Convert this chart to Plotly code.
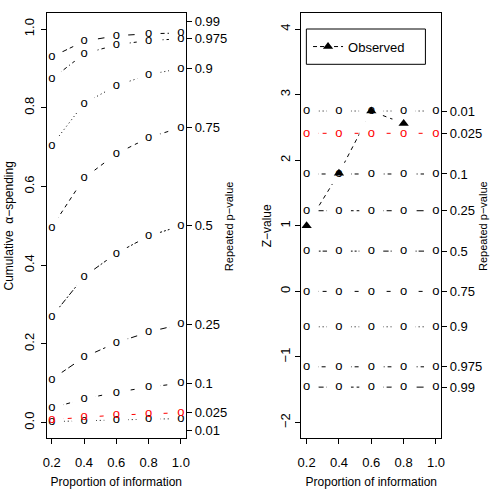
import plotly.graph_objects as go

# ---------------- data ----------------
info = [0.2, 0.4, 0.6, 0.8, 1.0]
pvals = ["0.01", "0.025", "0.1", "0.25", "0.5", "0.75", "0.9", "0.975", "0.99"]

spend_001 = [0.0025, 0.005, 0.007, 0.0085, 0.01]
spend_0025 = [0.0075, 0.014, 0.019, 0.022, 0.025]
spend_01 = [0.037, 0.060, 0.077, 0.090, 0.100]
spend_025 = [0.110, 0.166, 0.203, 0.230, 0.250]
spend_05 = [0.269, 0.371, 0.430, 0.474, 0.500]
spend_075 = [0.496, 0.621, 0.683, 0.724, 0.750]
spend_09 = [0.704, 0.811, 0.856, 0.884, 0.900]
spend_0975 = [0.873, 0.937, 0.960, 0.971, 0.975]
spend_099 = [0.929, 0.969, 0.983, 0.988, 0.990]
spending = [spend_001, spend_0025, spend_01, spend_025, spend_05,
            spend_075, spend_09, spend_0975, spend_099]

# label positions of the repeated p-value axis on the left panel
left_label_pos = [-0.021, 0.025, 0.1, 0.25, 0.5, 0.75, 0.9, 0.975, 1.019]

# Z-value boundaries (constant over information) for each p-value
z_bounds = [2.75, 2.41, 1.79, 1.23, 0.614, 0.0, -0.54, -1.15, -1.46]

obs_info = [0.2, 0.4, 0.6, 0.8]
obs_z = [1.0, 1.80, 2.75, 2.56]

left_yticks = [0.0, 0.2, 0.4, 0.6, 0.8, 1.0]
right_yticks = [-2, -1, 0, 1, 2, 3, 4]

# ---------------- styles ----------------
FONT = "Liberation Sans, Arial, sans-serif"
DOTTED = "1px,3px"
DASHED = "4px,4px"
DOTDASH = "1px,3px,4px,3px"
LONGDASH = "7px,3px"
TWODASH = "2px,2px,6px,2px"
dashes = [DOTTED, DASHED, DOTDASH, LONGDASH, TWODASH, DASHED, DOTTED, DOTDASH, LONGDASH]
colors = ["black", "#FF0000"] + ["black"] * 7
GAP = 24  # white cover emulating R's type="b" gaps

fig = go.Figure()

# ---- left panel ----
for vals, d, c in zip(spending, dashes, colors):
    fig.add_trace(go.Scatter(x=info, y=vals, mode="lines", xaxis="x", yaxis="y",
                             line=dict(color=c, width=1, dash=d), showlegend=False,
                             hoverinfo="skip"))
for vals in spending:
    fig.add_trace(go.Scatter(x=info, y=vals, mode="markers", xaxis="x", yaxis="y",
                             marker=dict(color="white", size=GAP), showlegend=False,
                             hoverinfo="skip"))
for vals, c in zip(spending, colors):
    fig.add_trace(go.Scatter(x=info, y=vals, mode="text", xaxis="x", yaxis="y",
                             text=["o"] * len(info), textposition="middle center",
                             textfont=dict(family=FONT, size=13, color=c),
                             showlegend=False, hoverinfo="skip"))
# anchor trace for the right-hand p-value axis
fig.add_trace(go.Scatter(x=[None], y=[None], xaxis="x", yaxis="y3", showlegend=False,
                         hoverinfo="skip"))

# ---- right panel ----
for z, d, c in zip(z_bounds, dashes, colors):
    fig.add_trace(go.Scatter(x=info, y=[z] * len(info), mode="lines", xaxis="x2", yaxis="y2",
                             line=dict(color=c, width=1, dash=d), showlegend=False,
                             hoverinfo="skip"))
fig.add_trace(go.Scatter(x=obs_info, y=obs_z, mode="lines", xaxis="x2", yaxis="y2",
                         line=dict(color="black", width=1, dash=DASHED), showlegend=False,
                         hoverinfo="skip"))
for z in z_bounds:
    fig.add_trace(go.Scatter(x=info, y=[z] * len(info), mode="markers", xaxis="x2", yaxis="y2",
                             marker=dict(color="white", size=GAP), showlegend=False,
                             hoverinfo="skip"))
fig.add_trace(go.Scatter(x=obs_info, y=obs_z, mode="markers", xaxis="x2", yaxis="y2",
                         marker=dict(color="white", size=GAP), showlegend=False,
                         hoverinfo="skip"))
for z, c in zip(z_bounds, colors):
    fig.add_trace(go.Scatter(x=info, y=[z] * len(info), mode="text", xaxis="x2", yaxis="y2",
                             text=["o"] * len(info), textposition="middle center",
                             textfont=dict(family=FONT, size=13, color=c),
                             showlegend=False, hoverinfo="skip"))
fig.add_trace(go.Scatter(x=obs_info, y=obs_z, mode="markers", xaxis="x2", yaxis="y2",
                         marker=dict(color="black", size=9, symbol="triangle-up"),
                         showlegend=False, hoverinfo="skip"))
fig.add_trace(go.Scatter(x=[None], y=[None], xaxis="x2", yaxis="y4", showlegend=False,
                         hoverinfo="skip"))
# legend entry
fig.add_trace(go.Scatter(x=[None], y=[None], mode="lines+markers", xaxis="x2", yaxis="y2",
                         name="Observed",
                         line=dict(color="black", width=1, dash="4px,3px"),
                         marker=dict(color="black", size=9, symbol="triangle-up")))

W, H = 498, 492
xdom1 = [43.3 / W, 185 / W]
xdom2 = [302.3 / W, 444.3 / W]
ydom = [1 - 438.3 / H, 1 - 13.3 / H]

axis_common = dict(showline=True, linecolor="black", linewidth=1, mirror=True,
                   ticks="outside", ticklen=5, tickwidth=1, tickcolor="black",
                   showgrid=False, zeroline=False,
                   tickfont=dict(family=FONT, size=13, color="black"))
right_axis = dict(showline=False, ticks="outside", ticklen=5, tickwidth=1, tickcolor="black",
                  showgrid=False, zeroline=False,
                  tickfont=dict(family=FONT, size=13, color="black"))

xticks = dict(tickvals=info, ticktext=[f"{v:.1f}" for v in info], ticklabelstandoff=7)

fig.update_layout(
    width=W, height=H, margin=dict(l=0, r=0, t=0, b=0),
    paper_bgcolor="white", plot_bgcolor="white",
    font=dict(family=FONT, color="black"),
    xaxis=dict(domain=xdom1, range=[0.168, 1.032], anchor="y", **xticks, **axis_common,
               title=dict(text="Proportion of information", font=dict(size=12), standoff=8)),
    yaxis=dict(domain=ydom, range=[-0.04, 1.04], anchor="x", tickvals=left_yticks,
               ticktext=[f"{v:.1f}" for v in left_yticks], tickangle=-90,
               ticklabelstandoff=1, **axis_common,
               title=dict(text="Cumulative \u00a0α−spending", font=dict(size=12), standoff=6)),
    yaxis3=dict(domain=ydom, range=[-0.04, 1.04], anchor="x", overlaying="y", side="right",
                tickvals=left_label_pos, ticktext=pvals, **right_axis),
    xaxis2=dict(domain=xdom2, range=[0.168, 1.032], anchor="y2", **xticks, **axis_common,
                title=dict(text="Proportion of information", font=dict(size=12), standoff=8)),
    yaxis2=dict(domain=ydom, range=[-2.24, 4.24], anchor="x2", tickvals=right_yticks,
                ticktext=[("\u2212" + str(-v)) if v < 0 else str(v) for v in right_yticks],
                tickangle=-90, **axis_common,
                title=dict(text="Z−value", font=dict(size=12), standoff=4)),
    yaxis4=dict(domain=ydom, range=[-2.24, 4.24], anchor="x2", overlaying="y2", side="right",
                tickvals=z_bounds, ticktext=pvals, **right_axis),
    showlegend=True,
    legend=dict(x=309 / W, y=1 - 46.6 / H, xanchor="left", yanchor="middle",
                bgcolor="rgba(0,0,0,0)", borderwidth=0, itemwidth=30,
                font=dict(family=FONT, size=13, color="black")),
    shapes=[dict(type="rect", xref="paper", yref="paper",
                 x0=307.3 / W, x1=428.3 / W, y0=1 - 64.3 / H, y1=1 - 29 / H,
                 line=dict(color="black", width=1), fillcolor="rgba(0,0,0,0)")],
    annotations=[
        dict(text="Repeated p−value", xref="paper", yref="paper", x=228 / W, y=1 - 225.8 / H,
             xanchor="center", yanchor="middle", textangle=-90, showarrow=False,
             font=dict(family=FONT, size=11, color="black")),
        dict(text="Repeated p−value", xref="paper", yref="paper", x=487 / W, y=1 - 225.8 / H,
             xanchor="center", yanchor="middle", textangle=-90, showarrow=False,
             font=dict(family=FONT, size=11, color="black")),
    ],
)

fig.write_html("out.html")
